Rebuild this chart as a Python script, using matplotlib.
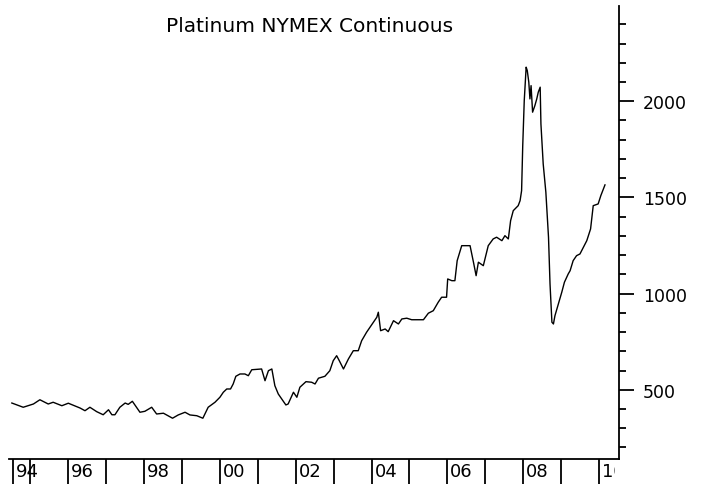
import matplotlib
matplotlib.use('Agg')
import matplotlib.pyplot as plt
import matplotlib.transforms as mtransforms

# monthly-ish closes (decimal year, USD/oz)
years = [1994.51, 1994.81, 1995.08, 1995.25, 1995.47, 1995.60, 1995.83, 1996.00,
         1996.31, 1996.44, 1996.57, 1996.75, 1996.92, 1997.06, 1997.15, 1997.23,
         1997.36, 1997.50, 1997.58, 1997.69, 1997.89, 1998.02, 1998.20, 1998.33,
         1998.51, 1998.75, 1998.90, 1999.08, 1999.21, 1999.39, 1999.55, 1999.69,
         1999.87, 2000.00, 2000.09, 2000.18, 2000.28, 2000.35, 2000.42, 2000.53,
         2000.66, 2000.75, 2000.84, 2001.10, 2001.19, 2001.28, 2001.37, 2001.45,
         2001.54, 2001.63, 2001.74, 2001.80, 2001.94, 2002.03, 2002.11, 2002.27,
         2002.42, 2002.51, 2002.60, 2002.77, 2002.90, 2002.99, 2003.08, 2003.15,
         2003.26, 2003.39, 2003.52, 2003.65, 2003.74, 2003.87, 2003.96, 2004.05,
         2004.14, 2004.18, 2004.24, 2004.36, 2004.44, 2004.58, 2004.71, 2004.80,
         2004.93, 2005.06, 2005.37, 2005.50, 2005.63, 2005.76, 2005.85, 2005.98,
         2006.01, 2006.12, 2006.20, 2006.26, 2006.38, 2006.60, 2006.69, 2006.76,
         2006.82, 2006.95, 2007.08, 2007.21, 2007.30, 2007.44, 2007.52, 2007.61,
         2007.67, 2007.74, 2007.87, 2007.92, 2007.96, 2007.99, 2008.03, 2008.08,
         2008.11, 2008.15, 2008.18, 2008.21, 2008.25, 2008.31, 2008.36, 2008.40,
         2008.45, 2008.47, 2008.53, 2008.60, 2008.67, 2008.71, 2008.76, 2008.80,
         2008.84, 2008.93, 2009.02, 2009.09, 2009.19, 2009.24, 2009.32, 2009.41,
         2009.50, 2009.59, 2009.68, 2009.78, 2009.85, 2009.98, 2010.05, 2010.16]
prices = [431, 409, 426, 448, 426, 435, 417, 430,
          405, 391, 409, 386, 370, 396, 370, 370,
          409, 431, 424, 440, 383, 388, 409, 374,
          378, 352, 369, 383, 369, 365, 352, 409,
          435, 461, 487, 504, 504, 530, 570, 582,
          582, 573, 604, 608, 547, 599, 608, 521,
          478, 452, 421, 426, 487, 461, 513, 542,
          539, 530, 560, 570, 599, 651, 677, 651,
          608, 660, 703, 703, 755, 799, 825, 851,
          877, 903, 807, 816, 802, 859, 842, 868,
          872, 864, 864, 898, 911, 955, 981, 981,
          1076, 1067, 1067, 1171, 1249, 1249, 1163, 1093,
          1163, 1145, 1249, 1284, 1293, 1275, 1301, 1284,
          1379, 1431, 1457, 1483, 1535, 1769, 2003, 2177,
          2159, 2099, 2012, 2081, 1943, 1977, 2012, 2047,
          2073, 1882, 1674, 1527, 1293, 1050, 851, 842,
          885, 946, 1007, 1059, 1102, 1119, 1171, 1197,
          1206, 1241, 1275, 1336, 1457, 1466, 1509, 1565]

tick_years = [1994.53] + list(range(1995, 2011))
tick_labels = ['94', '', '96', '', '98', '', '00', '', '02', '', '04', '', '06', '', '08', '', '10']
y_major = [500, 1000, 1500, 2000]
y_minor = [v for v in range(200, 2500, 100) if v % 500 != 0]

fig = plt.figure(figsize=(7.04, 4.85), dpi=100)
ax = fig.add_axes([9/704, 25/485, 610/704, 453/485])
ax.plot(years, prices, color='black', lw=1.0)
ax.set_xlim(1994.435, 2010.53)
ax.set_ylim(140, 2495)

for s in ['top', 'left']:
    ax.spines[s].set_visible(False)
for s in ['right', 'bottom']:
    ax.spines[s].set_linewidth(1.3)

ax.yaxis.tick_right()
ax.set_yticks(y_major)
ax.set_yticks(y_minor, minor=True)
ax.tick_params(axis='y', which='major', direction='out', length=10.8, width=1.3, pad=6.5, labelsize=12.5)
ax.tick_params(axis='y', which='minor', direction='out', length=5, width=1.3)

ax.set_xticks(tick_years)
ax.set_xticklabels([])
ax.tick_params(axis='x', direction='out', length=18, width=1.3)

# year labels sit just right of their tick; the last one is cut at the axis end
clip = mtransforms.TransformedBbox(mtransforms.Bbox([[0, 0], [615/704, 1]]), fig.transFigure)
trans = mtransforms.offset_copy(ax.get_xaxis_transform(), fig=fig, x=3, y=-3, units='dots')
for x, lab in zip(tick_years, tick_labels):
    if lab:
        t = fig.text(x, 0, lab, transform=trans, ha='left', va='top', fontsize=13)
        t.set_clip_box(clip)
        t.set_clip_on(True)

fig.text(310/704, 1 - 27/485, 'Platinum NYMEX Continuous', ha='center', va='center', fontsize=14.5)

fig.savefig('out.png', dpi=100)
